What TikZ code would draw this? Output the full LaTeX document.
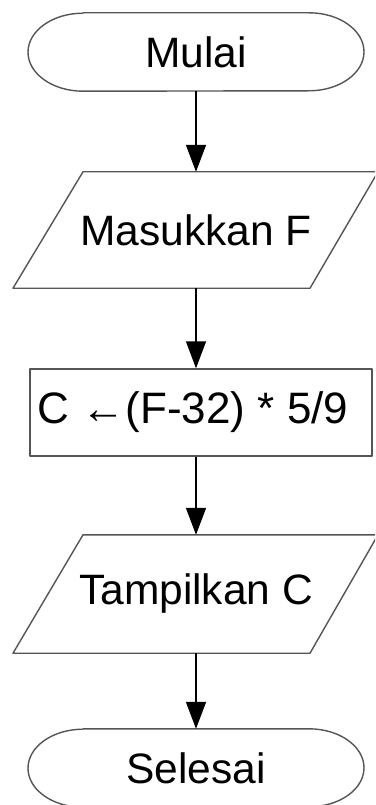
\documentclass[tikz,border=0pt]{standalone}
\usepackage{fontspec}
\setmainfont{Liberation Sans}
\usetikzlibrary{arrows.meta,calc}
\definecolor{edge}{RGB}{85,85,85}
\tikzset{
  lbl/.style={inner sep=0pt, font=\fontsize{42.5}{50}\selectfont, text=black},
  outline/.style={draw=edge, line width=1.4pt, line join=round},
  flow/.style={draw=black, line width=1.5pt, -{Triangle[length=27pt,width=20pt]}},
}
\begin{document}
\begin{tikzpicture}[x=1pt,y=-1pt]
\useasboundingbox (0,0) rectangle (375,805);
\clip (0,0) rectangle (375,805);

% text nodes, sized to the outlines drawn around them
\node[lbl, minimum width=336pt, minimum height=78pt] (start) at (196,52) {Mulai};
\node[lbl, minimum width=297pt, minimum height=116pt] (in) at (196,230) {Masukkan F};
\node[lbl, outline, minimum width=342pt, minimum height=87pt,
      font=\fontsize{44}{50}\selectfont] (proc) at (201,412.5) {C ←(F-32) * 5/9\hspace*{16pt}};
\node[lbl, minimum width=297pt, minimum height=118pt] (out) at (196,594) {Tampilkan C};
\node[lbl, minimum width=336pt, minimum height=78pt] (stop) at (196,768) {Selesai};

% terminal outlines: flat top and bottom with half-ellipse ends
\foreach \n in {start,stop}{
  \draw[outline] ($(\n.north)+(-113,0)$) -- ($(\n.north)+(113,0)$)
    arc[start angle=-90, end angle=90, x radius=55, y radius=39]
    -- ($(\n.south)+(-113,0)$)
    arc[start angle=90, end angle=270, x radius=55, y radius=39] -- cycle;
}

% input / output parallelograms
\foreach \n in {in,out}{
  \draw[outline] ($(\n.north)+(-113,0)$) -- ($(\n.north)+(182,0)$)
    -- ($(\n.south)+(114,0)$) -- ($(\n.south)+(-183,0)$) -- cycle;
}

% flow connectors
\draw[flow] (start) -- (in);
\draw[flow] (in.south) -- (in.south |- proc.north);
\draw[flow] (proc.south -| out.north) -- (out.north);
\draw[flow] (out) -- (stop);
\end{tikzpicture}
\end{document}
